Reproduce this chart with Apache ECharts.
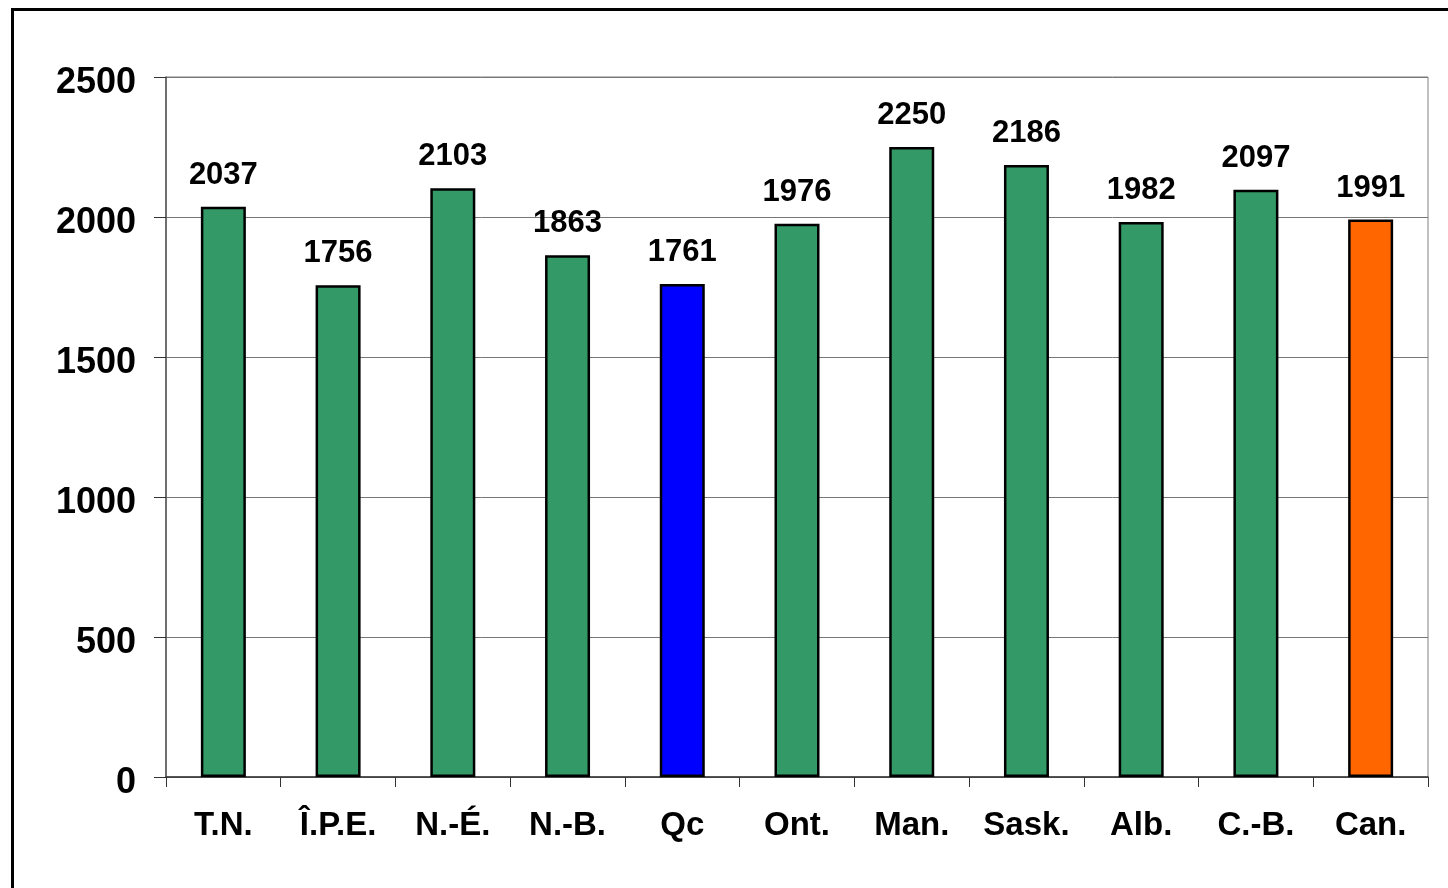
<!DOCTYPE html>
<html lang="fr">
<head>
<meta charset="utf-8" />
<title>Provinces</title>
<script src="https://cdn.jsdelivr.net/npm/echarts@6/dist/echarts.min.js"></script>
<style>
    html, body { margin: 0; padding: 0; background: #fff; overflow: hidden; }
    #frame { position: absolute; left: 11px; top: 8px; width: 1500px; height: 1000px; border: 3px solid #000; }
    #main { position: absolute; left: 0; top: 0; width: 1448px; height: 888px; }
</style>
</head>
<body>
<div id="frame"></div>
<div id="main"></div>
<script>
    var categories = ['T.N.', 'Î.P.E.', 'N.-É.', 'N.-B.', 'Qc', 'Ont.', 'Man.', 'Sask.', 'Alb.', 'C.-B.', 'Can.'];
    var values = [2037, 1756, 2103, 1863, 1761, 1976, 2250, 2186, 1982, 2097, 1991];
    var yTicks = [0, 500, 1000, 1500, 2000, 2500];

    // couleurs : vert par défaut, Québec en bleu, Canada en orange
    var baseColor = '#339966';
    var special = { 'Qc': '#0000FF', 'Can.': '#FF6600' };
    var font = '"Liberation Sans", Arial, sans-serif';

    var myChart = echarts.init(document.getElementById('main'));

    var option = {
        animation: false,
        grid: {
            left: 166,
            top: 77,
            right: 20,
            bottom: 111,
            show: true,
            borderColor: '#808080',
            borderWidth: 1
        },
        xAxis: {
            type: 'category',
            data: categories,
            axisLine: { lineStyle: { color: '#333', width: 1.5 } },
            axisTick: { show: true, length: 10, lineStyle: { color: '#333' } },
            axisLabel: {
                margin: 32,
                fontSize: 33,
                fontWeight: 'bold',
                fontFamily: font,
                color: '#000'
            }
        },
        yAxis: {
            type: 'value',
            min: yTicks[0],
            max: yTicks[yTicks.length - 1],
            interval: yTicks[1] - yTicks[0],
            axisLine: { show: true, lineStyle: { color: '#555', width: 1.5 } },
            axisTick: { show: true, length: 12, lineStyle: { color: '#333' } },
            splitLine: { lineStyle: { color: '#777', width: 1 } },
            axisLabel: {
                margin: 30,
                fontSize: 36,
                fontWeight: 'bold',
                fontFamily: font,
                color: '#000',
                verticalAlign: 'top',
                lineHeight: 12,
                formatter: function (v) { return String(v); }
            }
        },
        series: [{
            type: 'bar',
            barWidth: 45,
            data: values.map(function (v, i) {
                return {
                    value: v,
                    itemStyle: { color: special[categories[i]] || baseColor }
                };
            }),
            itemStyle: { borderColor: '#000', borderWidth: 2.5 },
            label: {
                show: true,
                position: 'top',
                distance: 16,
                fontSize: 31,
                fontWeight: 'bold',
                fontFamily: font,
                color: '#000'
            }
        }]
    };

    myChart.setOption(option);
</script>
</body>
</html>
